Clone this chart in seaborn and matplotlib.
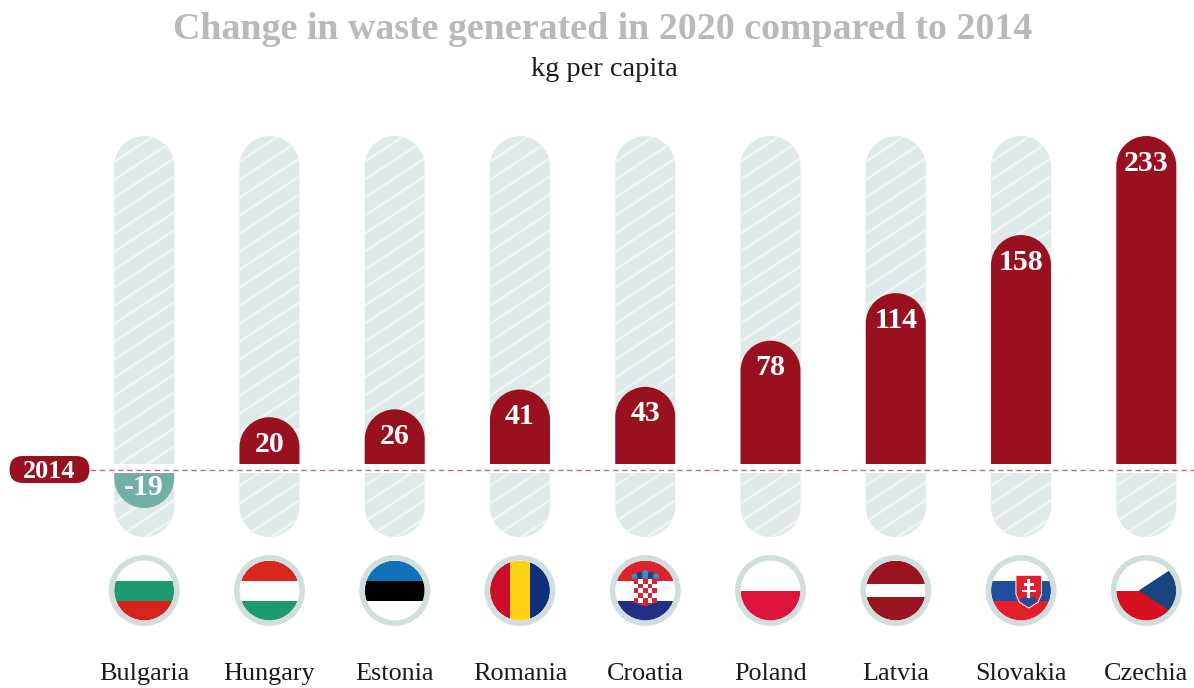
import matplotlib
matplotlib.use("Agg")
import matplotlib.pyplot as plt
import numpy as np
import pandas as pd
import seaborn as sns
from matplotlib.patches import Circle, FancyBboxPatch, PathPatch, Polygon, Rectangle
from matplotlib.path import Path
from matplotlib.transforms import Affine2D, IdentityTransform

countries = ["Bulgaria", "Hungary", "Estonia", "Romania", "Croatia",
             "Poland", "Latvia", "Slovakia", "Czechia"]
changes = [-19, 20, 26, 41, 43, 78, 114, 158, 233]
baseline_label = "2014"
title = "Change in waste generated in 2020 compared to 2014"
subtitle = "kg per capita"

RED = "#99111f"
TEAL = "#72b0a5"
TRACK = "#dfe9e9"
STRIPE = "#eef4f4"
RING = "#d0dfdd"
W, H = 1194, 688
PX_PER_KG = 1.32
COL_PX = 125.26
COL_ORIGIN = 144.2
LINE_Y = 469.5          # pixels from the top edge
BAR_PX = 60
RADIUS = BAR_PX / 2
POS_PAD, NEG_PAD = 19.6, 10.2   # stub kept on each bar so the caps stay round

sns.set_theme(style="white")
plt.rcParams["font.family"] = ["Liberation Serif", "DejaVu Serif"]

fig = plt.figure(figsize=(W / 100, H / 100), dpi=100)
ax = fig.add_axes([0, 0, 1, 1])

df = pd.DataFrame({"country": countries, "change": changes})
df["drawn"] = [v + POS_PAD if v >= 0 else v - NEG_PAD for v in changes]
track_top = max(changes) + POS_PAD
track_bottom = -(537 - LINE_Y) / PX_PER_KG

bar_width = BAR_PX / COL_PX
for column_value in (track_top, track_bottom):
    sns.barplot(x=countries, y=[column_value] * len(countries), color=TRACK,
                width=bar_width, saturation=1, ax=ax, zorder=1, linewidth=0)
n_track_patches = len(ax.patches)
sns.barplot(data=df, x="country", y="drawn", hue="country", legend=False,
            palette=[TEAL if v < 0 else RED for v in changes], width=bar_width,
            saturation=1, ax=ax, zorder=2, linewidth=0)

ax.set_xlim(-COL_ORIGIN / COL_PX, (W - COL_ORIGIN) / COL_PX)
ax.set_ylim(-(H - LINE_Y) / PX_PER_KG, LINE_Y / PX_PER_KG)
ax.axis("off")
fig.canvas.draw()


def to_px(x, y):
    return ax.transData.transform((x, y))


def capsule(cx, y_low, y_high, round_low, round_high):
    """Outline in display pixels of a column with optional semicircular ends."""
    k = 0.5523 * RADIUS
    left, right = cx - RADIUS, cx + RADIUS
    verts, codes = [], []
    if round_low:
        verts += [(left, y_low + RADIUS), (left, y_low + RADIUS - k), (cx - k, y_low), (cx, y_low),
                  (cx + k, y_low), (right, y_low + RADIUS - k), (right, y_low + RADIUS)]
        codes += [Path.MOVETO] + [Path.CURVE4] * 6
    else:
        verts += [(left, y_low), (right, y_low)]
        codes += [Path.MOVETO, Path.LINETO]
    if round_high:
        verts += [(right, y_high - RADIUS), (right, y_high - RADIUS + k), (cx + k, y_high), (cx, y_high),
                  (cx - k, y_high), (left, y_high - RADIUS + k), (left, y_high - RADIUS)]
        codes += [Path.LINETO] + [Path.CURVE4] * 6
    else:
        verts += [(right, y_high), (left, y_high)]
        codes += [Path.LINETO, Path.LINETO]
    verts.append(verts[0])
    codes.append(Path.CLOSEPOLY)
    return Path(verts, codes)


def reshape(patch, outline, zorder):
    """Swap a square seaborn bar for a smooth rounded outline of the same colour."""
    patch.set_visible(False)
    ax.add_patch(PathPatch(outline, transform=identity, facecolor=patch.get_facecolor(),
                           edgecolor="none", zorder=zorder))


identity = IdentityTransform()
y_top_px = to_px(0, track_top)[1]
y_bottom_px = to_px(0, track_bottom)[1]
y0_px = to_px(0, 0)[1]
n = len(countries)
track_patches = list(ax.patches[:n_track_patches])
value_patches = list(ax.patches[n_track_patches:])

# Background tracks with their diagonal stripes
for i in range(n):
    cx = to_px(i, 0)[0]
    outline = capsule(cx, y_bottom_px, y_top_px, True, True)
    track_patches[i].set_visible(False)
    reshape(track_patches[i + n], outline, 1)
    for start in np.arange(y_bottom_px - 57, y_top_px + 18, 18):
        stripe, = ax.plot([cx - RADIUS - 5, cx + RADIUS + 5], [start - 3, start + 43],
                          transform=identity, color=STRIPE, lw=1.9, zorder=1.5,
                          solid_capstyle="butt")
        stripe.set_clip_path(outline, identity)

# Round the free end of every value bar
for i, patch in enumerate(value_patches):
    cx = to_px(i, 0)[0]
    end_px = to_px(0, df["drawn"][i])[1]
    if changes[i] >= 0:
        reshape(patch, capsule(cx, y0_px, end_px, False, True), 2)
    else:
        reshape(patch, capsule(cx, end_px, y0_px, True, False), 2)

# White gap and dashed reference line at the 2014 level
ax.axhspan(-3.5 / PX_PER_KG, 6 / PX_PER_KG, color="white", lw=0, zorder=3)
ax.plot([(90 - COL_ORIGIN) / COL_PX, (W - COL_ORIGIN) / COL_PX], [0, 0], color="#cf6a76", lw=1.0,
        dashes=(4, 2.6), zorder=4)

# Value labels sit inside the cap of their bar
for i, v in enumerate(changes):
    ax.annotate(str(v), (i, df["drawn"][i]), xytext=(0, -19.5 if v >= 0 else 14.5),
                textcoords="offset points", ha="center", va="center",
                color="white", fontsize=21.5, fontweight="bold", zorder=5)

# Pill holding the baseline year
pill_y = H - LINE_Y
ax.add_patch(FancyBboxPatch((9 + 13.5, pill_y - 0.5), 81 - 27, 1,
                            boxstyle="round,pad=13,rounding_size=13.5", transform=identity,
                            facecolor=RED, edgecolor="none", zorder=5,
                            mutation_aspect=1))
ax.text(49.5, pill_y - 1.5, baseline_label, transform=identity, ha="center", va="center",
        color="white", fontsize=18.8, fontweight="bold", zorder=6)


# Flag badges, each drawn in a unit circle
def flag_parts(tf, clip):
    def rect(x0, y0, x1, y1, color, z=6):
        p = Rectangle((x0, y0), x1 - x0, y1 - y0, transform=tf, facecolor=color,
                      edgecolor="none", zorder=z)
        ax.add_patch(p)
        p.set_clip_path(clip)
        return p

    def poly(points, color, z=6):
        p = Polygon(points, closed=True, transform=tf, facecolor=color, edgecolor="none", zorder=z)
        ax.add_patch(p)
        p.set_clip_path(clip)
        return p
    return rect, poly


def h_stripes(rect, colors):
    edges = np.linspace(1, -1, len(colors) + 1)
    for c, a, b in zip(colors, edges[:-1], edges[1:]):
        rect(-1, b, 1, a, c)


def draw_flag(name, rect, poly):
    if name == "Bulgaria":
        h_stripes(rect, ["white", "#1e9a70", "#d6231c"])
    elif name == "Hungary":
        h_stripes(rect, ["#d6261e", "white", "#1e9a70"])
    elif name == "Estonia":
        h_stripes(rect, ["#0f72ba", "#000000", "white"])
    elif name == "Romania":
        rect(-1, -1, -1 / 3, 1, "#cc0f27")
        rect(-1 / 3, -1, 1 / 3, 1, "#fcd116")
        rect(1 / 3, -1, 1, 1, "#0f2f7c")
    elif name == "Croatia":
        h_stripes(rect, ["#d9232e", "white", "#232f84"])
        size = 0.156
        poly([(-0.39, -0.2), (0.39, -0.2), (0.3, -0.43), (0, -0.53), (-0.3, -0.43)], "#d9232e", 7)
        for row in range(5):
            for col in range(5):
                c = "#d9232e" if (row + col) % 2 == 0 else "white"
                rect(-0.39 + col * size, 0.38 - (row + 1) * size, -0.39 + (col + 1) * size,
                     0.38 - row * size, c, 7)
        crown_x = [-0.36, -0.18, 0.0, 0.18, 0.36]
        crown_h = [0.58, 0.64, 0.7, 0.64, 0.58]
        crown_cols = ["#3b8fcf", "#1f3f8a", "#3b8fcf", "#1f3f8a", "#3b8fcf"]
        for x, top, c in zip(crown_x, crown_h, crown_cols):
            poly([(x - 0.09, 0.4), (x + 0.09, 0.4), (x + 0.09, top - 0.06), (x, top),
                  (x - 0.09, top - 0.06)], c, 7)
    elif name == "Poland":
        rect(-1, 0, 1, 1, "white")
        rect(-1, -1, 1, 0, "#dc143c")
    elif name == "Latvia":
        rect(-1, -1, 1, 1, "#991420")
        rect(-1, -0.22, 1, 0.22, "white")
    elif name == "Slovakia":
        h_stripes(rect, ["white", "#1f4e9e", "#e21f2d"])
        sx = 0.257
        shield = [(-0.41, 0.49), (0.41, 0.49), (0.41, -0.12), (0.3, -0.38), (0, -0.57), (-0.3, -0.38), (-0.41, -0.12)]
        poly([(sx + x * 1.08, 0.0 + y * 1.06) for x, y in shield], "white", 7)
        poly([(sx + x, y) for x, y in shield], "#e21f2d", 7)
        hills = [(-0.32, -0.31), (-0.14, -0.2), (0, -0.28), (0.14, -0.2), (0.32, -0.31), (0, -0.55)]
        poly([(sx + x, y) for x, y in hills], "#1f4e9e", 8)
        rect(sx - 0.05, -0.25, sx + 0.05, 0.38, "white", 9)
        rect(sx - 0.17, 0.16, sx + 0.17, 0.24, "white", 9)
        rect(sx - 0.24, -0.06, sx + 0.24, 0.03, "white", 9)
    elif name == "Czechia":
        rect(-1, 0, 1, 1, "white")
        rect(-1, -1, 1, 0, "#d6101f")
        poly([(-0.25, 0), (0.74, 0.65), (1.1, 0.65), (1.1, -0.65), (0.74, -0.65)], "#17457f", 7)


cy_px = H - 590.5
for i, name in enumerate(countries):
    cx = to_px(i, 0)[0]
    tf = Affine2D().scale(RADIUS).translate(cx, cy_px)
    clip = Circle((0, 0), 1, transform=tf)
    rect, poly = flag_parts(tf, clip)
    draw_flag(name, rect, poly)
    # The ring goes on last so it hides the hard edge of the flag's clip
    ax.add_patch(Circle((cx, cy_px), 32.7, transform=identity, facecolor="none",
                        edgecolor=RING, lw=4.0, zorder=10))
    ax.text(cx, H - 674, name, transform=identity, ha="center", va="center",
            color="#1a1a1a", fontsize=18.8, zorder=6)

fig.text(603 / W, 1 - 29.5 / H, title, ha="center", va="center", color="#b9b9b9",
         fontsize=27.3, fontweight="bold")
fig.text(604 / W, 1 - 69.5 / H, subtitle, ha="center", va="center", color="#1a1a1a",
         fontsize=20.4)

fig.savefig("out.png", dpi=100, facecolor="white")
